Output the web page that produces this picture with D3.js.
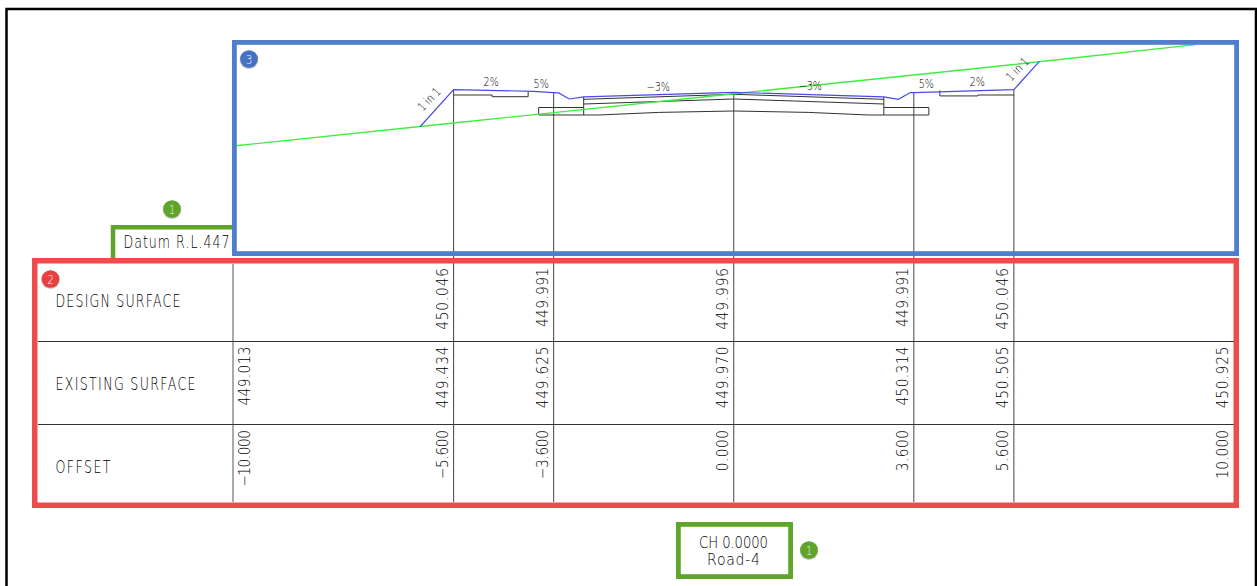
<!DOCTYPE html>
<html><head><meta charset="utf-8">
<script src="https://cdn.jsdelivr.net/npm/d3@7/dist/d3.min.js"></script>
<style>html,body{margin:0;padding:0;background:#fff}svg{display:block}
text{font-family:"DejaVu Sans",sans-serif;font-weight:200;fill:#000}</style></head><body>
<svg id="c" width="1257" height="586"></svg>
<script>
// Data
const stations=[-5.6,-3.6,0,3.6,5.6];
const designSurface=[[-6.27,449.366],[-5.6,450.046],[-4.01,450.015],[-3.6,449.991],[-3.5,449.985],[-3.29,449.874],[-3,449.911],[0,449.996],[3,449.911],[3.29,449.868],[3.53,449.991],[3.6,449.991],[5.6,450.046],[6.11,450.564]];
const existingSurface=[[-10,449.013],[-5.6,449.434],[-3.6,449.625],[0,449.97],[3.6,450.314],[5.6,450.505],[9.23,450.87]];
const stationTops=[450.046,449.991,449.996,449.991,450.046];
const pavementLayers=[
 [[-4.11,450.015],[-4.11,449.916],[-4.83,449.916],[-4.83,449.947],[-5.6,449.947]],
 [[4.12,450.03],[4.12,449.93],[4.88,449.93],[4.88,449.947],[5.6,449.947]],
 [[-3,449.911],[-3,449.581]],[[3,449.911],[3,449.581]],
 [[-3,449.868],[0,449.96],[3,449.868]],
 [[-3,449.782],[0,449.874],[3,449.782]],
 [[-3,449.581],[-2.7,449.581],[-1.5,449.628],[0,449.654],[1.5,449.628],[2.7,449.581],[3,449.581]],
 [[-3,449.718],[-3.9,449.718],[-3.9,449.581],[-3,449.581]],
 [[3,449.718],[3.9,449.718],[3.9,449.581],[3,449.581]]];
const slopeLabels=[["1 in 1",-6.03,449.819,-46],["2%",-4.85,450.112,0],["5%",-3.85,450.081,0],["-3%",-1.51,450.026,0],["-3%",1.53,450.039,0],["5%",3.85,450.075,0],["2%",4.87,450.112,0],["1 in 1",5.73,450.368,-46]];
const rowLabels=["DESIGN SURFACE","EXISTING SURFACE","OFFSET"];
const rowLabelWidths=[125,140,55];
const offsetCols=[-10,-5.6,-3.6,0,3.6,5.6,10];
const designRow=[null,"450.046","449.991","449.996","449.991","450.046",null];
const existingRow=["449.013","449.434","449.625","449.970","450.314","450.505","450.925"];
const offsetRow=["-10.000","-5.600","-3.600","0.000","3.600","5.600","10.000"];
const datumLabel="Datum R.L.447";
const chainageLabels=["CH 0.0000","Road-4"];

const svg=d3.select("#c");
const x=d3.scaleLinear().domain([-10,10]).range([233.5,1234]);
const y=d3.scaleLinear().domain([449.013,450.87]).range([146,44.6]);
const line=d3.line().x(d=>x(d[0])).y(d=>y(d[1]));
const BLUE="#4f7ecb",RED="#ec4c4a",GREEN="#5fa52a";

function draft(t,px,py,rot,anchor,size,width,sx){
 sx=sx||0.72;
 const g=svg.append("text").attr("transform",`translate(${px},${py}) rotate(${rot}) scale(${sx},1)`)
  .attr("text-anchor",anchor).attr("font-size",size).text(t);
 if(width) g.attr("textLength",width/sx).attr("lengthAdjust","spacing");
 return g;
}

// outer frame
svg.append("path").attr("d","M6.5,586V9H1256V586").attr("fill","none").attr("stroke","#000").attr("stroke-width",2.5);

// table verticals
const rowY=[264,341,424,502];
svg.selectAll(".st").data(stations).join("line")
 .attr("x1",d=>x(d)).attr("x2",d=>x(d)).attr("y1",(d,i)=>y(stationTops[i])).attr("y2",rowY[3])
 .attr("stroke","#444").attr("stroke-width",1);
svg.append("line").attr("x1",x(-10)-.5).attr("x2",x(-10)-.5).attr("y1",rowY[0]).attr("y2",rowY[3]).attr("stroke","#555");
[1,2].forEach(i=>svg.append("line").attr("x1",38).attr("x2",1234).attr("y1",rowY[i]+.5).attr("y2",rowY[i]+.5).attr("stroke","#333"));

// pavement
svg.selectAll(".pv").data(pavementLayers).join("path").attr("d",line).attr("fill","none").attr("stroke","#333").attr("stroke-width",1);
// surfaces
svg.append("path").attr("d",line(existingSurface)).attr("fill","none").attr("stroke","#3df03d").attr("stroke-width",1.4);
svg.append("path").attr("d",line(designSurface)).attr("fill","none").attr("stroke","#4a4ae8").attr("stroke-width",1.2);

// slope labels
slopeLabels.forEach(s=>draft(s[0].replace("-","\u2212"),x(s[1]),y(s[2]),s[3],"middle",12,null,0.8));

// row labels
const labelY=[306.5,389.5,472.5];
rowLabels.forEach((t,i)=>draft(t,55.5,labelY[i],0,"start",17.5,rowLabelWidths[i]));

// rotated values, top-aligned in each row
const charW=c=>c==="."?0:c==="-"?8:c==="1"?7.5:10.3;
const len=s=>Array.from(s).reduce((a,c)=>a+charW(c),0);
function col(values,top){values.forEach((v,i)=>{ if(v==null)return;
 const bx=i===0?x(offsetCols[0])+16.5:x(offsetCols[i])-5.6;
 draft(v.replace("-","\u2212"),bx,top,-90,"end",16,len(v),0.86);
});}
col(designRow,268);
col(existingRow,346.5);
col(offsetRow,430);

// boxes
function box(x0,y0,x1,y1,c,w){svg.append("rect").attr("x",x0+w/2).attr("y",y0+w/2).attr("width",x1-x0-w).attr("height",y1-y0-w).attr("fill","none").attr("stroke",c).attr("stroke-width",w);}
svg.append("path").attr("d","M113,258V227.3H232").attr("fill","none").attr("stroke",GREEN).attr("stroke-width",4.5);
draft(datumLabel,123.5,248,0,"start",17.5,106);
box(232,40,1239,256,BLUE,4.8);
box(32,258,1239,508,RED,5.5);
box(676,522,793,579,GREEN,4.8);
draft(chainageLabels[0],733.5,548,0,"middle",16.5,69,0.8);
draft(chainageLabels[1],733.5,565,0,"middle",16.5,53,0.85);

// badges
const badges=[["1",172,209,GREEN],["2",50.5,279,"#e8403f"],["3",249,59,"#4472c4"],["1",809,550,GREEN]];
badges.forEach(b=>{
 svg.append("circle").attr("cx",b[1]).attr("cy",b[2]+.7).attr("r",9.3).attr("fill","#999").attr("opacity",.6);
 svg.append("circle").attr("cx",b[1]).attr("cy",b[2]).attr("r",8.8).attr("fill",b[3]);
 svg.append("text").attr("transform",`translate(${b[1]},${b[2]+4.6}) scale(.8,1)`).attr("text-anchor","middle").attr("font-size",13).style("fill","#f2f2ff").text(b[0]);
});
</script></body></html>
